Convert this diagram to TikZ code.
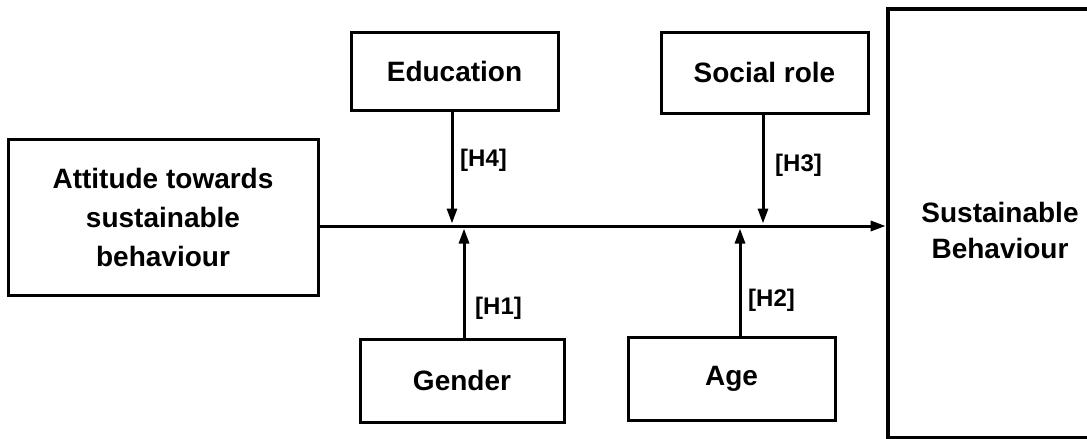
\documentclass[tikz,border=0pt]{standalone}
\usepackage{fontspec}
\setmainfont{Liberation Sans}
\usetikzlibrary{arrows.meta}
\begin{document}
\begin{tikzpicture}[x=1pt,y=-1pt,
  box/.style={draw=black,line width=3pt,fill=white,inner sep=0pt,align=center,
    font=\bfseries\fontsize{28}{39}\selectfont},
  bigbox/.style={draw=black,line width=4.6pt,inner sep=0pt},
  lbl/.style={font=\bfseries\fontsize{24}{28}\selectfont,inner sep=0pt,anchor=west},
  arr/.style={line width=3pt,-{Triangle[length=15pt,width=10pt]}}]
\useasboundingbox (0,0) rectangle (1087,439);
\node[box,minimum width=310pt,minimum height=156pt] (att) at (163,217) {Attitude towards\\sustainable\\behaviour};
\node[box,minimum width=207pt,minimum height=78pt] (edu) at (454.5,71) {Education};
\node[box,minimum width=207pt,minimum height=81pt] (soc) at (764.5,72.5) {Social role};
\node[box,minimum width=204pt,minimum height=83pt] (gen) at (462,380.5) {Gender};
\node[box,minimum width=207pt,minimum height=83pt] (age) at (731.5,378.5) {Age};
\node[bigbox,minimum width=222pt,minimum height=429pt] (sb) at (999,223.5) {};
\node[font=\bfseries\fontsize{28}{36}\selectfont,align=center,inner sep=0pt] (sbt) at (1000,230) {Sustainable\\Behaviour};
\draw[arr] (att.east |- 0,226) -- (sb.west |- 0,226);
\coordinate (m4) at (452,226);
\coordinate (m3) at (763,226);
\coordinate (m1) at (464,226);
\coordinate (m2) at (740,226);
\draw[arr,shorten >=2.5pt] (edu.south -| m4) -- (m4);
\draw[arr,shorten >=2.5pt] (soc.south -| m3) -- (m3);
\draw[arr,shorten >=2.5pt] (gen.north -| m1) -- (m1);
\draw[arr,shorten >=2.5pt] (age.north -| m2) -- (m2);
\node[lbl] (h4) at (460,160) {[H4]};
\node[lbl] (h3) at (775,165) {[H3]};
\node[lbl] (h1) at (475,308) {[H1]};
\node[lbl] (h2) at (748,300) {[H2]};
\end{tikzpicture}
\end{document}
